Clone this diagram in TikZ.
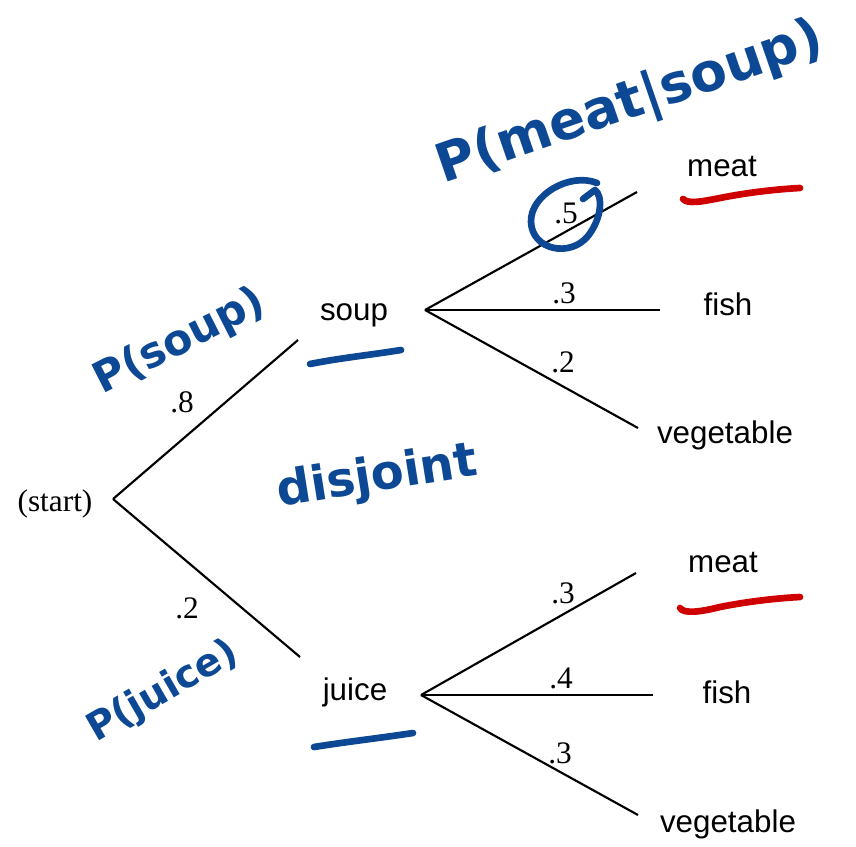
\documentclass[tikz,border=0pt]{standalone}
\usepackage{fontspec}
\setmainfont{Liberation Serif}
\setsansfont{Liberation Sans}
\newfontfamily\handfont{DejaVu Sans}
\definecolor{inkblue}{RGB}{12,72,148}
\definecolor{inkred}{RGB}{206,0,0}
\tikzset{every picture/.style={line width=0.75pt}}

\begin{document}
\begin{tikzpicture}[x=0.75pt,y=0.75pt,yscale=-1,xscale=1,
  item/.style={anchor=base,inner sep=0.75pt,font=\sffamily\fontsize{23.5}{28}\selectfont},
  prob/.style={anchor=base,inner sep=0.75pt,font=\fontsize{23.5}{28}\selectfont},
  branch/.style={line width=1.6pt},
  ink/.style={color=inkblue,line width=5pt,line cap=round,line join=round},
  redink/.style={color=inkred,line width=5pt,line cap=round},
  note/.style={inner sep=0pt,text=inkblue,font=\handfont\bfseries}]
\path[use as bounding box] (0,0) rectangle (856,846);

% Text Node
\node[prob] (start) at (55,511) {(start)};
% Text Node
\node[item] (soup) at (354,320) {soup};
% Text Node
\node[item] (juice) at (355,700) {juice};
% Text Node
\node[item] (smeat) at (722,176) {meat};
% Text Node
\node[item] (sfish) at (728,315) {fish};
% Text Node
\node[item] (sveg) at (725,443) {vegetable};
% Text Node
\node[item] (jmeat) at (723,572) {meat};
% Text Node
\node[item] (jfish) at (727,703) {fish};
% Text Node
\node[item] (jveg) at (728,832) {vegetable};

% fork points and branch ends
\coordinate (f0) at (113,499);
\coordinate (f1) at (425,310);
\coordinate (f2) at (421,695);
\coordinate (e1) at (298,340);
\coordinate (e2) at (300,657);
\coordinate (s1) at (637,192);
\coordinate (s2) at (660,310);
\coordinate (s3) at (638,428);
\coordinate (j1) at (636,573);
\coordinate (j2) at (653,695);
\coordinate (j3) at (638,815);

%Straight Lines
\draw[branch] (f0) -- (e1);
\draw[branch] (f0) -- (e2);
\draw[branch] (f1) -- (s1);
\draw[branch] (f1) -- (s2);
\draw[branch] (f1) -- (s3);
\draw[branch] (f2) -- (j1);
\draw[branch] (f2) -- (j2);
\draw[branch] (f2) -- (j3);

% Text Node
\node[prob] (p8) at (182,412) {.8};
% Text Node
\node[prob] (p2) at (187,618) {.2};
% Text Node
\node[prob] (pms) at (566,223) {.5};
% Text Node
\node[prob] (pfs) at (564,303) {.3};
% Text Node
\node[prob] (pvs) at (563,372) {.2};
% Text Node
\node[prob] (pmj) at (563,603) {.3};
% Text Node
\node[prob] (pfj) at (561,688) {.4};
% Text Node
\node[prob] (pvj) at (560,763) {.3};

% handwritten notes
\node[note,rotate=19,font=\handfont\bfseries\fontsize{40}{46}\selectfont] (nmeat) at (630,104) {P(meat|soup)};
\node[note,rotate=27,font=\handfont\bfseries\fontsize{32}{38}\selectfont] (nsoup) at (180,342) {P(soup)};
\node[note,rotate=9,font=\handfont\bfseries\fontsize{36}{42}\selectfont] (ndisj) at (377,478) {disjoint};
\node[note,rotate=30,font=\handfont\bfseries\fontsize{29}{34}\selectfont] (njuice) at (163,692) {P(juice)};

% circle round .5
\draw[ink] (597,183) .. controls (570,172) and (530,195) .. (531,222) .. controls (532,250) and (570,258) .. (588,236) .. controls (602,218) and (603,196) .. (595,190) -- (583,199);

% underlines
\draw[ink] (310,364) .. controls (340,358) and (370,355) .. (401,350);
\draw[ink] (314,747) .. controls (345,742) and (380,738) .. (413,733);
\draw[redink] (683,199) .. controls (688,204) and (700,202) .. (720,198) .. controls (750,192) and (780,189) .. (800,188);
\draw[redink] (680,608) .. controls (684,614) and (700,612) .. (720,607) .. controls (750,601) and (780,598) .. (800,597);

\end{tikzpicture}
\end{document}
